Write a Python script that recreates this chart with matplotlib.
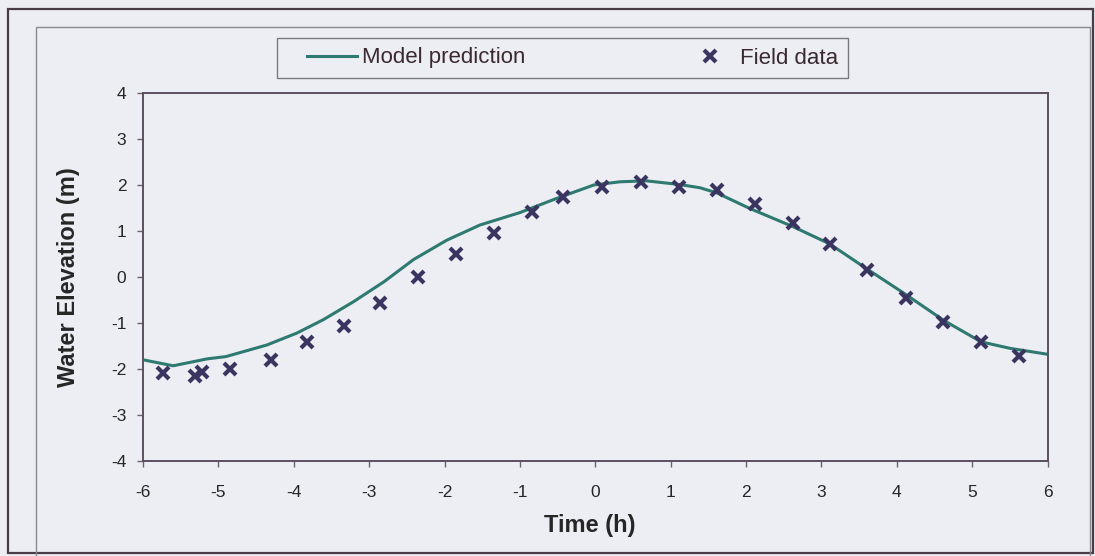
import matplotlib.pyplot as plt
from matplotlib.patches import Rectangle

# tidal water elevation over a 12 h cycle centred on high water
model_time = [-6.0, -5.6, -5.15, -4.9, -4.36, -3.96, -3.61, -3.21, -2.8, -2.41,
              -1.97, -1.53, -1.0, -0.51, -0.02, 0.33, 0.68, 1.12, 1.39, 1.61,
              2.05, 2.63, 3.11, 3.60, 4.12, 4.62, 5.12, 5.50, 6.0]
model_elev = [-1.80, -1.93, -1.78, -1.73, -1.48, -1.22, -0.93, -0.54, -0.10, 0.38,
              0.80, 1.13, 1.40, 1.71, 2.00, 2.07, 2.09, 2.01, 1.94, 1.83,
              1.49, 1.09, 0.72, 0.18, -0.38, -0.94, -1.41, -1.55, -1.68]

field_time = [-5.73, -5.31, -5.22, -4.85, -4.30, -3.82, -3.33, -2.86, -2.35, -1.85,
              -1.34, -0.84, -0.43, 0.09, 0.61, 1.11, 1.61, 2.12, 2.63, 3.12,
              3.61, 4.12, 4.62, 5.12, 5.62]
field_elev = [-2.08, -2.15, -2.07, -2.01, -1.80, -1.41, -1.06, -0.57, -0.01, 0.50,
              0.96, 1.42, 1.73, 1.96, 2.06, 1.95, 1.89, 1.59, 1.18, 0.71,
              0.15, -0.45, -0.97, -1.41, -1.72]

x_ticks = list(range(-6, 7))
y_ticks = list(range(-4, 5))

bg = "#ededf4"
W, H = 1095, 556

plt.rcParams['font.family'] = ['Liberation Sans', 'DejaVu Sans']
plt.rcParams['axes.unicode_minus'] = False

fig = plt.figure(figsize=(W / 100, H / 100), dpi=100, facecolor=bg)
ax = fig.add_axes([143 / W, 1 - 461 / H, (1047.5 - 143) / W, (461 - 93) / H])
ax.set_facecolor(bg)


def px_rect(x0, y0, x1, y1, **kw):
    # rectangle given in pixel coordinates from the top-left corner
    return Rectangle((x0 / W, 1 - y1 / H), (x1 - x0) / W, (y1 - y0) / H,
                     transform=fig.transFigure, fill=False, **kw)


# outer page frame, chart area frame and legend box
fig.add_artist(px_rect(8, 9, 1093, 553, edgecolor="#4a3c44", linewidth=1.6))
fig.add_artist(px_rect(36, 27, 1090, 560, edgecolor="#8a8890", linewidth=1.0))
fig.add_artist(px_rect(277, 38, 848, 78, edgecolor="#7a7880", linewidth=1.0))

ax.plot(model_time, model_elev, color="#2e7a70", linewidth=2.2,
        label="Model prediction")
ax.plot(field_time, field_elev, linestyle="none", marker="x", markersize=9,
        markeredgewidth=3.0, color="#3a3460", label="Field data")

ax.set_xlim(-6, 6)
ax.set_ylim(-4, 4)
ax.set_xticks(x_ticks)
ax.set_yticks(y_ticks)
ax.tick_params(direction="out", length=4, width=1, color="#6a6070",
               labelsize=12.5, labelcolor="#262626")
ax.tick_params(axis="x", pad=13)
ax.tick_params(axis="y", pad=8)
for s in ax.spines.values():
    s.set_color("#5a5060")
    s.set_linewidth(1.4)

ax.set_xlabel("Time (h)", fontsize=17, fontweight="bold", color="#262626")
ax.set_ylabel("Water Elevation (m)", fontsize=17, fontweight="bold",
              color="#262626")
ax.xaxis.set_label_coords((590 - 143) / 904.5, (461 - 514) / 368)
ax.yaxis.set_label_coords((80 - 143) / 904.5, 0.5)

leg = fig.legend(loc="center left", ncol=2, frameon=False,
                 bbox_to_anchor=(307 / W, 1 - 58 / H),
                 fontsize=16, handlelength=2.25, handletextpad=0.22,
                 columnspacing=7.2, borderpad=0, borderaxespad=0,
                 labelcolor="#3a2a30")

fig.savefig("out.png", dpi=100, facecolor=bg)
